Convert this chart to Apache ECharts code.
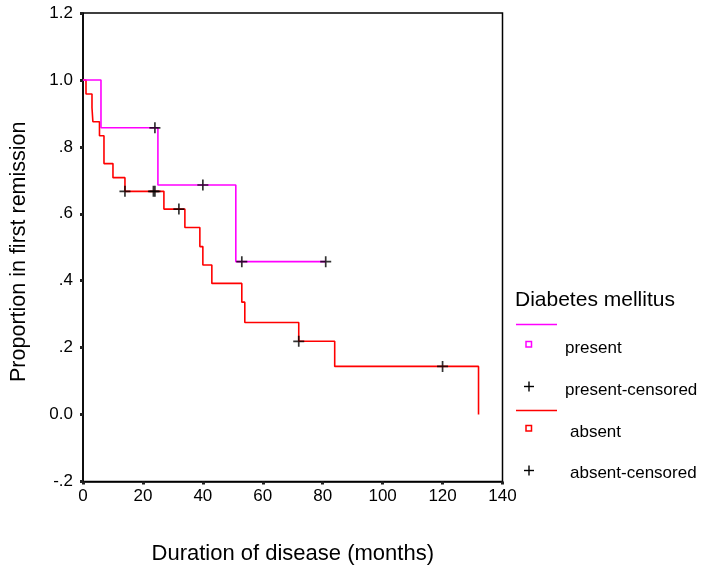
<!DOCTYPE html>
<html>
<head>
<meta charset="utf-8">
<script src="https://cdn.jsdelivr.net/npm/echarts@6/dist/echarts.min.js"></script>
<style>
html,body{margin:0;padding:0;background:#fff;}
#chart{width:702px;height:571px;}
</style>
</head>
<body>
<div id="chart"></div>
<script>
// Kaplan-Meier step data (time in months, proportion in first remission)
var presentTimes = [0, 6, 25, 51, 81];
var presentSurv  = [1, 0.857, 0.686, 0.457, 0.457];
var presentCensTimes = [24, 40, 53, 81];
var presentCensSurv  = [0.857, 0.686, 0.457, 0.457];

var absentTimes = [0, 1, 3, 3.3, 5.5, 7, 10, 14, 27, 34, 39, 40, 43, 53, 54, 72, 84, 132];
var absentSurv  = [1, 0.958, 0.917, 0.875, 0.833, 0.75, 0.708, 0.667, 0.614, 0.559, 0.502, 0.447, 0.392, 0.336, 0.275, 0.219, 0.144, 0];
var absentCensTimes = [14, 23.5, 24, 32, 72, 120];
var absentCensSurv  = [0.667, 0.667, 0.667, 0.614, 0.219, 0.144];

var yTickLabels = ['-.2', '0.0', '.2', '.4', '.6', '.8', '1.0', '1.2'];
var xTickLabels = ['0', '20', '40', '60', '80', '100', '120', '140'];

var legendTitle = 'Diabetes mellitus';
var legendItems = ['present', 'present-censored', 'absent', 'absent-censored'];

function zip(a, b) { return a.map(function (v, i) { return [v, b[i]]; }); }

var FONT = '"Liberation Sans", Arial, sans-serif';
var plus = 'path://M0,9.3H22V12.7H0Z M9.3,0H12.7V22H9.3Z';

function plusMark(cx, cy) {
  return [
    { type: 'line', shape: { x1: cx - 5, y1: cy, x2: cx + 5, y2: cy }, style: { stroke: '#000', lineWidth: 1.4 } },
    { type: 'line', shape: { x1: cx, y1: cy - 5, x2: cx, y2: cy + 5 }, style: { stroke: '#000', lineWidth: 1.4 } }
  ];
}

var graphics = [
  { type: 'text', x: 515, y: 300, style: { text: legendTitle, font: '21px ' + FONT, fill: '#000', textVerticalAlign: 'middle', verticalAlign: 'middle' } },
  { type: 'line', shape: { x1: 516, y1: 324.5, x2: 557, y2: 324.5 }, style: { stroke: '#ff00ff', lineWidth: 1.5 } },
  { type: 'rect', shape: { x: 526, y: 341.5, width: 5.5, height: 5.5 }, style: { fill: 'none', stroke: '#ff00ff', lineWidth: 1.5 } },
  { type: 'text', x: 565, y: 348, style: { text: legendItems[0], font: '17px ' + FONT, fill: '#000', textVerticalAlign: 'middle', verticalAlign: 'middle' } },
  { type: 'text', x: 565, y: 390, style: { text: legendItems[1], font: '17px ' + FONT, fill: '#000', textVerticalAlign: 'middle', verticalAlign: 'middle' } },
  { type: 'line', shape: { x1: 516, y1: 410.5, x2: 557, y2: 410.5 }, style: { stroke: '#ff0000', lineWidth: 1.5 } },
  { type: 'rect', shape: { x: 526, y: 425.5, width: 5.5, height: 5.5 }, style: { fill: 'none', stroke: '#ff0000', lineWidth: 1.5 } },
  { type: 'text', x: 570, y: 432, style: { text: legendItems[2], font: '17px ' + FONT, fill: '#000', textVerticalAlign: 'middle', verticalAlign: 'middle' } },
  { type: 'text', x: 570, y: 473.5, style: { text: legendItems[3], font: '17px ' + FONT, fill: '#000', textVerticalAlign: 'middle', verticalAlign: 'middle' } }
].concat(plusMark(529, 386.5), plusMark(529, 470.5));

var chart = echarts.init(document.getElementById('chart'));
chart.setOption({
  animation: false,
  backgroundColor: '#fff',
  grid: { left: 83, top: 13, width: 419.5, height: 468.5, show: true, borderColor: '#000', borderWidth: 1.5, backgroundColor: 'transparent' },
  xAxis: {
    type: 'value', min: 0, max: 140, interval: 20,
    name: 'Duration of disease (months)', nameLocation: 'middle', nameGap: 61,
    nameTextStyle: { fontFamily: FONT, fontSize: 22, color: '#000' },
    axisLine: { show: true, onZero: false, lineStyle: { color: '#000', width: 1.5 } },
    axisTick: { show: true, length: 3, lineStyle: { color: '#222', width: 3 } },
    axisLabel: { fontFamily: FONT, fontSize: 17, color: '#000', margin: 6,
      formatter: function (v) { return xTickLabels[Math.round(v / 20)]; } },
    splitLine: { show: false }
  },
  yAxis: {
    type: 'value', min: -0.2, max: 1.2, interval: 0.2,
    name: 'Proportion in first remission', nameLocation: 'middle', nameGap: 53, nameRotate: 90,
    nameTextStyle: { fontFamily: FONT, fontSize: 21.5, color: '#000', padding: [0, 9, 0, 0] },
    axisLine: { show: true, onZero: false, lineStyle: { color: '#000', width: 1.5 } },
    axisTick: { show: true, length: 3, lineStyle: { color: '#222', width: 3 } },
    axisLabel: { fontFamily: FONT, fontSize: 17, color: '#000', margin: 10,
      formatter: function (v) { return yTickLabels[Math.round((v + 0.2) / 0.2)]; } },
    splitLine: { show: false }
  },
  series: [
    { name: 'absent', type: 'line', step: 'end', data: zip(absentTimes, absentSurv),
      showSymbol: false, lineStyle: { color: '#ff0000', width: 1.6 }, z: 2 },
    { name: 'present', type: 'line', step: 'end', data: zip(presentTimes, presentSurv),
      showSymbol: false, lineStyle: { color: '#ff00ff', width: 1.6 }, z: 3 },
    { name: 'absent-censored', type: 'scatter', data: zip(absentCensTimes, absentCensSurv),
      symbol: plus, symbolSize: 11, itemStyle: { color: '#000' }, z: 4 },
    { name: 'present-censored', type: 'scatter', data: zip(presentCensTimes, presentCensSurv),
      symbol: plus, symbolSize: 11, itemStyle: { color: '#000' }, z: 4 }
  ],
  graphic: graphics
});
</script>
</body>
</html>
